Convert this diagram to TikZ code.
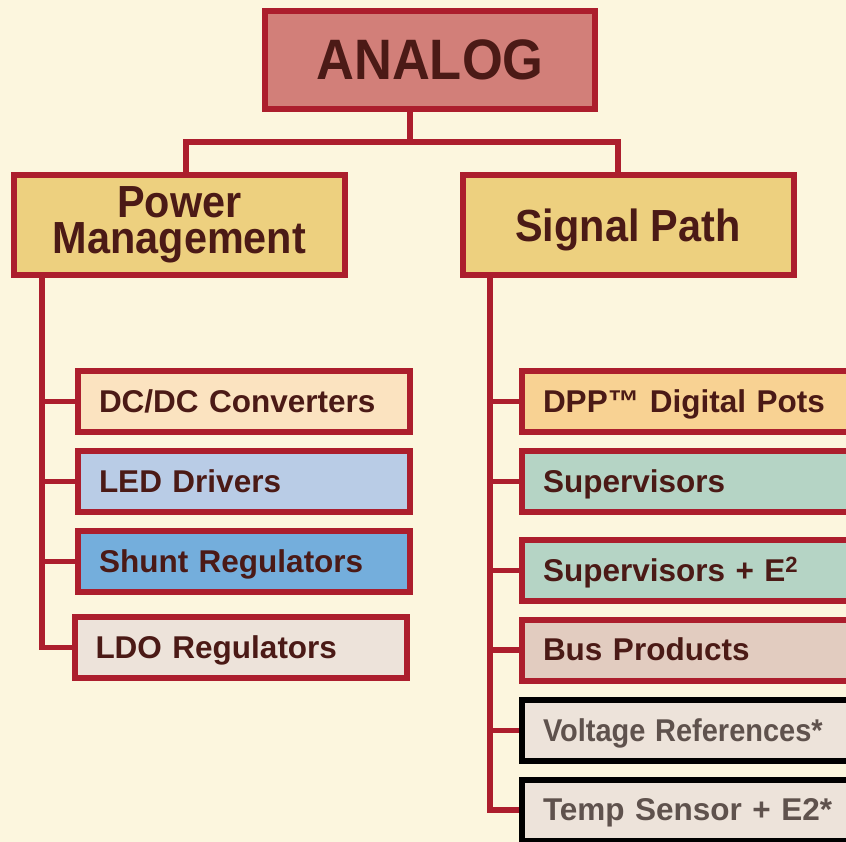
\documentclass[tikz,border=0pt]{standalone}
\usepackage{graphicx}
\usepackage{fontspec}
\setmainfont{Liberation Sans}
\newfontfamily\titlefont[FakeStretch=0.92]{Liberation Sans Bold}
\newfontfamily\boxfont{Liberation Sans Bold}
\definecolor{bg}{HTML}{FCF6DE}
\definecolor{redline}{HTML}{AC1E2D}
\definecolor{txt}{HTML}{4B1A16}
\definecolor{graytxt}{HTML}{5F524D}
\definecolor{analogfill}{HTML}{D27F79}
\definecolor{titlefill}{HTML}{EDD07F}
\definecolor{dcfill}{HTML}{FBE3C0}
\definecolor{ledfill}{HTML}{B9CCE6}
\definecolor{shuntfill}{HTML}{74AEDC}
\definecolor{ldofill}{HTML}{EDE3DA}
\definecolor{dppfill}{HTML}{F8D293}
\definecolor{supfill}{HTML}{B5D4C5}
\definecolor{busfill}{HTML}{E2CCC0}
\tikzset{
  boxbase/.style={draw=redline, line width=6pt, rectangle, inner ysep=0pt, outer sep=0pt},
  topbox/.style={boxbase, fill=analogfill, minimum width=330pt, minimum height=98pt,
    font=\titlefont\fontsize{57}{60}\selectfont, text=txt, text height=40pt, text depth=0pt},
  titlebox/.style={boxbase, fill=titlefill, minimum width=331pt, minimum height=100pt,
    font=\titlefont\fontsize{45}{36}\selectfont, text=txt, align=center},
  leftbox/.style={boxbase, minimum height=61pt, text width=290pt, inner xsep=21pt, align=left,
    font=\boxfont\fontsize{31.5}{36}\selectfont, text=txt, text height=21.6pt, text depth=0pt},
  rightbox/.style={leftbox, text width=336pt},
  greybox/.style={rightbox, draw=black, text=graytxt},
  conn/.style={draw=redline, line width=5.5pt}
}
\begin{document}
\begin{tikzpicture}[x=1pt,y=-1pt]
\useasboundingbox (0,0) rectangle (846,842);
\clip (0,0) rectangle (846,842);
\fill[bg] (0,0) rectangle (846,842);

% top
\node[topbox] (analog) at (430,60) {ANALOG};
\node[titlebox] (pm) at (179.5,225) {Power\\Management};
\node[titlebox, text height=32.5pt, text depth=0pt] (sp) at (628,225) {Signal Path};

% left column
\node[leftbox, fill=dcfill]    (dcdc)  at (244,401.5) {DC/DC Converters};
\node[leftbox, fill=ledfill]   (led)   at (244,481.5) {LED Drivers};
\node[leftbox, fill=shuntfill] (shunt) at (244,561.5) {Shunt Regulators};
\node[leftbox, fill=ldofill]   (ldo)   at (240.5,647.5) {LDO Regulators};

% right column
\node[rightbox, fill=dppfill] (dpp)  at (711,401.5) {DPP™ Digital Pots};
\node[rightbox, fill=supfill] (sup)  at (711,481.5) {Supervisors};
\node[rightbox, fill=supfill] (supe) at (711,570.5) {Supervisors + E\textsuperscript{2}};
\node[rightbox, fill=busfill] (bus)  at (711,650) {Bus Products};
\node[greybox,  fill=ldofill] (vref) at (711,730.5) {\scalebox{0.92}[1]{Voltage References*}};
\node[greybox,  fill=ldofill] (temp) at (711,810) {Temp Sensor + E2*};

% connectors, top
\coordinate (jm) at (410,142);
\coordinate (jl) at (186,142);
\coordinate (jr) at (618,142);
\draw[conn] (jm |- analog.south) -- (jm);
\draw[conn] (jl |- pm.north) -- (jl) -- (jr) -- (jr |- sp.north);

% left trunk
\coordinate (lt) at (42,275);
\draw[conn] (lt) |- (ldo.west);
\draw[conn] (dcdc.west) -- (dcdc.west -| lt);
\draw[conn] (led.west) -- (led.west -| lt);
\draw[conn] (shunt.west) -- (shunt.west -| lt);

% right trunk
\coordinate (rt) at (490,275);
\draw[conn] (rt) |- ([xshift=-3pt]temp.west);
\draw[conn] (dpp.west) -- (dpp.west -| rt);
\draw[conn] (sup.west) -- (sup.west -| rt);
\draw[conn] (supe.west) -- (supe.west -| rt);
\draw[conn] (bus.west) -- (bus.west -| rt);
\draw[conn] ([xshift=-3pt]vref.west) -- (vref.west -| rt);
\end{tikzpicture}
\end{document}
